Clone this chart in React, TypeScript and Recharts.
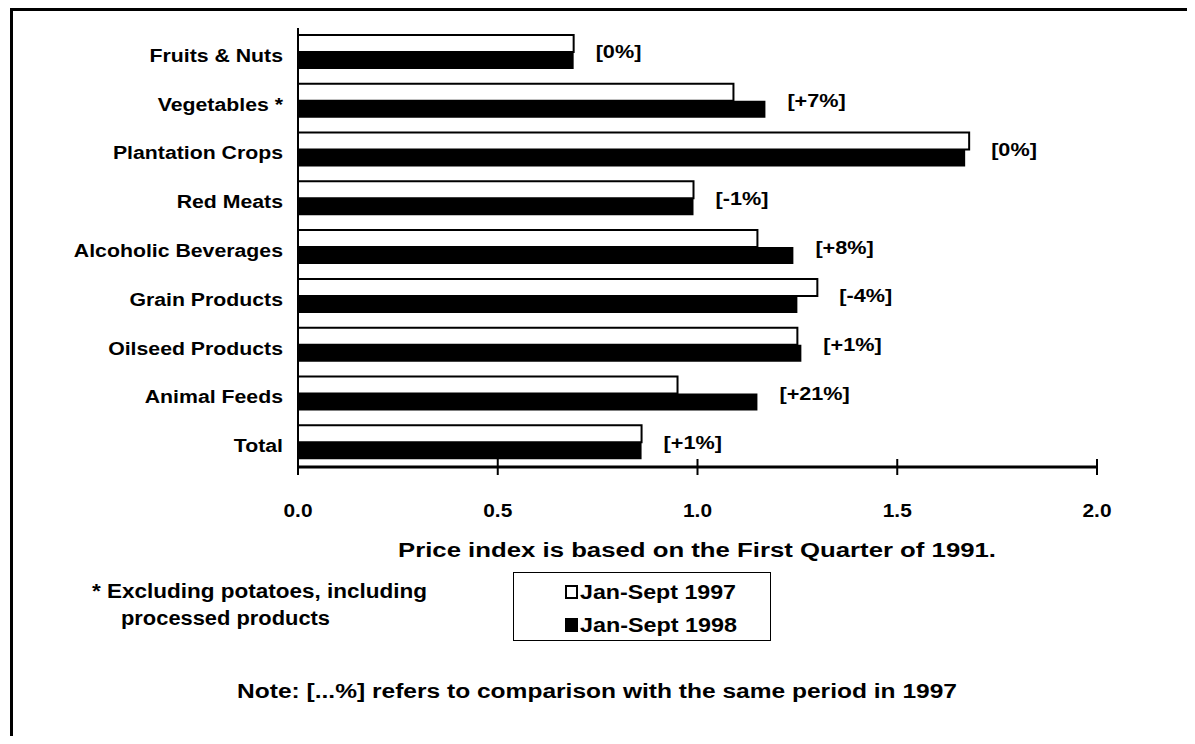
import { Bar, BarChart, LabelList, XAxis, YAxis } from "recharts";

const categories = [
  "Fruits & Nuts",
  "Vegetables *",
  "Plantation Crops",
  "Red Meats",
  "Alcoholic Beverages",
  "Grain Products",
  "Oilseed Products",
  "Animal Feeds",
  "Total",
];
const jan97 = [0.69, 1.09, 1.68, 0.99, 1.15, 1.3, 1.25, 0.95, 0.86];
const jan98 = [0.69, 1.17, 1.67, 0.99, 1.24, 1.25, 1.26, 1.15, 0.86];
const changes = ["[0%]", "[+7%]", "[0%]", "[-1%]", "[+8%]", "[-4%]", "[+1%]", "[+21%]", "[+1%]"];
const xTicks = [0, 0.5, 1, 1.5, 2];
const seriesNames = ["Jan-Sept 1997", "Jan-Sept 1998"];

const data = categories.map((name, i) => ({
  name,
  y1997: jan97[i],
  y1998: jan98[i],
}));

const FONT = "'Liberation Sans', Arial, Helvetica, sans-serif";

// the original lettering is a bit wider than Arial, so stretch it
const XTick = ({ x, y, payload }: any) => (
  <g>
    <line x1={x} x2={x} y1={y - 8} y2={y + 8} stroke="#000" strokeWidth={2} />
    <text
      transform={`translate(${x},${y + 43}) scale(1.13,1)`}
      textAnchor="middle"
      dominantBaseline="central"
      fontFamily={FONT}
      fontWeight="bold"
      fontSize={18.5}
      fill="#000"
    >
      {Number(payload.value).toFixed(1)}
    </text>
  </g>
);

const YTick = ({ x, y, payload }: any) => (
  <text
    transform={`translate(${x},${y + 3}) scale(1.15,1)`}
    textAnchor="end"
    dominantBaseline="central"
    fontFamily={FONT}
    fontWeight="bold"
    fontSize={18.5}
    fill="#000"
  >
    {payload.value}
  </text>
);

// change label sits right of the longer of the two bars
const ChangeLabel = (props: any) => {
  const { x, y, width, index } = props;
  const end = x + (width * Math.max(jan97[index], jan98[index])) / jan98[index];
  return (
    <text
      transform={`translate(${end + 22},${y}) scale(1.17,1)`}
      dominantBaseline="central"
      fontFamily={FONT}
      fontWeight="bold"
      fontSize={18.5}
      fill="#000"
    >
      {changes[index]}
    </text>
  );
};

const App = () => {
  return (
    <div
      style={{
        position: "relative",
        width: 1195,
        height: 744,
        margin: -8,
        overflow: "hidden",
        background: "#fff",
        fontFamily: FONT,
      }}
    >
      <div style={{ position: "absolute", left: 0, top: 0 }}>
        <BarChart
          width={1195}
          height={560}
          data={data}
          layout="vertical"
          margin={{ top: 28, right: 98, left: 10, bottom: 33 }}
          barSize={17}
          barGap={0}
        >
          <XAxis
            type="number"
            domain={[0, 2]}
            ticks={xTicks}
            height={60}
            tickSize={0}
            tickMargin={0}
            tickLine={false}
            axisLine={{ stroke: "#000", strokeWidth: 3 }}
            tick={<XTick />}
            interval={0}
          />
          <YAxis
            type="category"
            dataKey="name"
            width={288}
            tickLine={false}
            tickSize={0}
            tickMargin={15}
            axisLine={{ stroke: "#000", strokeWidth: 2 }}
            tick={<YTick />}
            interval={0}
          />
          <Bar
            dataKey="y1997"
            name={seriesNames[0]}
            fill="#fff"
            stroke="#000"
            strokeWidth={2}
            isAnimationActive={false}
          />
          <Bar dataKey="y1998" name={seriesNames[1]} fill="#000" isAnimationActive={false}>
            <LabelList dataKey="y1998" content={<ChangeLabel />} />
          </Bar>
        </BarChart>
      </div>
      <svg
        width={1195}
        height={744}
        style={{ position: "absolute", left: 0, top: 0, pointerEvents: "none" }}
        fontFamily={FONT}
        fontWeight="bold"
        fill="#000"
      >
        <text x={20} y={3} fontSize={24}>
          Agricultural Import Price Indices (PI) for Selected Categories
        </text>
        <path d="M11.5 760 L11.5 9.5 L1210 9.5" fill="none" stroke="#000" strokeWidth={3} />
        <text x={697} y={557} fontSize={20} textAnchor="middle" textLength={598} lengthAdjust="spacingAndGlyphs">
          Price index is based on the First Quarter of 1991.
        </text>
        <text x={92} y={598} fontSize={20} textLength={335} lengthAdjust="spacingAndGlyphs">
          * Excluding potatoes, including
        </text>
        <text x={121} y={625} fontSize={20} textLength={209} lengthAdjust="spacingAndGlyphs">
          processed products
        </text>
        <rect x={513.5} y={572.5} width={257} height={68} fill="#fff" stroke="#000" strokeWidth={1} />
        <rect x={566} y={586} width={11} height={12} fill="#fff" stroke="#000" strokeWidth={2} />
        <text x={580} y={599} fontSize={20} textLength={156} lengthAdjust="spacingAndGlyphs">
          {seriesNames[0]}
        </text>
        <rect x={565} y={618} width={13} height={14} fill="#000" />
        <text x={580} y={632} fontSize={20} textLength={157} lengthAdjust="spacingAndGlyphs">
          {seriesNames[1]}
        </text>
        <text x={597} y={698} fontSize={20} textAnchor="middle" textLength={720} lengthAdjust="spacingAndGlyphs">
          Note: [...%] refers to comparison with the same period in 1997
        </text>
      </svg>
    </div>
  );
};

export default App;
